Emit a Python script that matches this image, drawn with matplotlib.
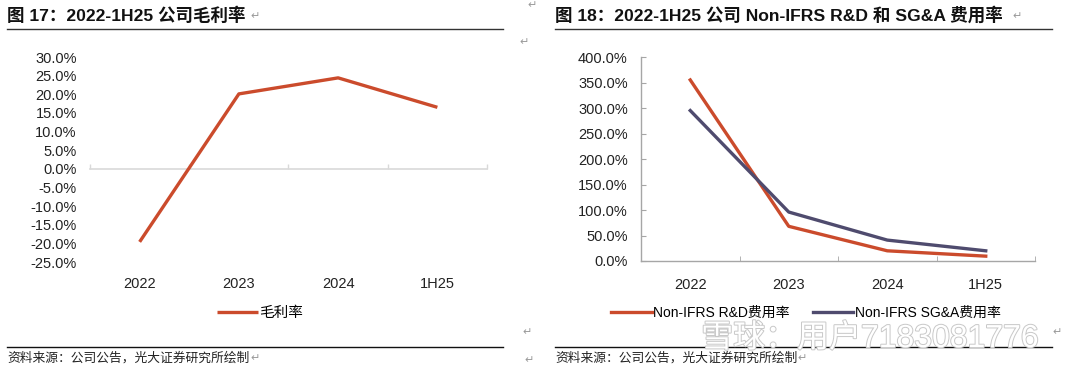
import matplotlib
matplotlib.use('Agg')
import matplotlib.pyplot as plt
import matplotlib.patheffects as pe
import numpy as np

plt.rcParams['font.family'] = ['Liberation Sans', 'Noto Sans CJK SC', 'DejaVu Sans']

# data
categories = ['2022', '2023', '2024', '1H25']
gross_margin = [-19.6, 20.1, 24.4, 16.5]
rd_ratio = [355.0, 68.0, 20.0, 9.5]
sga_ratio = [295.0, 96.0, 41.0, 20.0]

title_left = '图 17：2022-1H25 公司毛利率'
title_right = '图 18：2022-1H25 公司 Non-IFRS R&D 和 SG&A 费用率'
source_text = '资料来源：公司公告，光大证券研究所绘制'
watermark = '雪球：用户7183081776'

RED = '#CB4B2C'
PURPLE = '#4F4B6E'
GRID = '#d9d9d9'
AXIS = '#a6a6a6'
W, H = 1080, 372

fig = plt.figure(figsize=(W / 100, H / 100), dpi=100)


def px_axes(left, top, right, bottom):
    return fig.add_axes([left / W, 1 - bottom / H, (right - left) / W, (bottom - top) / H])


def pct(v, _=None):
    return f'{v:.1f}%'


x = np.arange(len(categories))
bounds = np.arange(len(categories) + 1) - 0.5

# ---- left chart: gross margin ----
ax1 = px_axes(90, 57, 487, 262)
ax1.plot(x, gross_margin, color=RED, lw=2.4, solid_capstyle='butt', label='毛利率')
ax1.set_xlim(-0.5, len(categories) - 0.5)
ax1.set_ylim(-25, 30)
ax1.set_yticks(np.arange(-25, 31, 5))
ax1.yaxis.set_major_formatter(pct)
for s in ax1.spines.values():
    s.set_visible(False)
ax1.set_xticks(x)
ax1.set_xticklabels(categories)
ax1.tick_params(axis='x', length=0, pad=11, labelsize=10.5, labelcolor='#222222')
ax1.tick_params(axis='y', length=0, pad=9.5, labelsize=10.5, labelcolor='#222222')
zero_frac = (0 - ax1.get_ylim()[0]) / (ax1.get_ylim()[1] - ax1.get_ylim()[0])
sec = ax1.secondary_xaxis(zero_frac)
sec.set_xticks(bounds)
sec.set_xticklabels([])
sec.tick_params(direction='in', length=3.5, color=GRID, width=1)
sec.spines['bottom'].set_color(GRID)
sec.spines['bottom'].set_linewidth(1.2)

fig.legend(*ax1.get_legend_handles_labels(), loc='center', bbox_to_anchor=(260 / W, 1 - 313 / H),
           frameon=False, fontsize=10.5, handlelength=2.8, handletextpad=0.1)

# ---- right chart: expense ratios ----
ax2 = px_axes(641, 57, 1035, 261)
ax2.plot(x, rd_ratio, color=RED, lw=2.4, label='Non-IFRS R&D费用率')
ax2.plot(x, sga_ratio, color=PURPLE, lw=2.4, label='Non-IFRS SG&A费用率')
ax2.set_xlim(-0.5, len(categories) - 0.5)
ax2.set_ylim(0, 400)
ax2.set_yticks(np.arange(0, 401, 50))
ax2.yaxis.set_major_formatter(pct)
ax2.spines['top'].set_visible(False)
ax2.spines['right'].set_visible(False)
for s in ('left', 'bottom'):
    ax2.spines[s].set_color(AXIS)
    ax2.spines[s].set_linewidth(1.0)
ax2.set_xticks(x)
ax2.set_xticklabels(categories)
ax2.set_xticks(bounds, minor=True)
ax2.tick_params(axis='x', which='major', length=0, pad=12, labelsize=10.5, labelcolor='#222222')
ax2.tick_params(axis='x', which='minor', direction='in', length=3.5, color=AXIS)
ax2.tick_params(axis='y', direction='in', length=3.5, color=AXIS, pad=9.5, labelsize=10.5,
                labelcolor='#222222')

fig.legend(*ax2.get_legend_handles_labels(), loc='center', bbox_to_anchor=(806 / W, 1 - 313 / H),
           frameon=False, fontsize=10, ncol=2, handlelength=2.9, handletextpad=0.1,
           columnspacing=1.7)

# ---- titles, rules, sources ----
for x0, x1, title in [(7, 503, title_left), (555, 1052, title_right)]:
    fig.text(x0 / W, 1 - 15 / H, title, fontsize=12.6, fontweight='bold', va='center', ha='left',
             color='#111111')
    fig.add_artist(plt.Line2D([x0 / W, x1 / W], [1 - 29 / H] * 2, color='#333333', lw=1.0))
    fig.add_artist(plt.Line2D([x0 / W, x1 / W], [1 - 347 / H] * 2, color='#111111', lw=1.0))
    fig.text(x0 / W, 1 - 358 / H, source_text, fontsize=9.2, va='center', ha='left', color='#222222')

# paragraph marks
for px, py in [(250, 16), (527, 5), (519, 42), (522, 332), (524, 360),
               (1012, 16), (1052, 332), (250, 358), (797, 358)]:
    fig.text(px / W, 1 - py / H, '↵', fontsize=8, color='#9a9a9a', va='center', ha='left',
             family='DejaVu Sans')

# watermark
fig.text(870 / W, 1 - 339 / H, watermark, fontsize=23, color='white', va='center', ha='center',
         path_effects=[pe.Stroke(linewidth=1.4, foreground='#c8c8c8'), pe.Normal()])

fig.savefig('out.png', dpi=100)
